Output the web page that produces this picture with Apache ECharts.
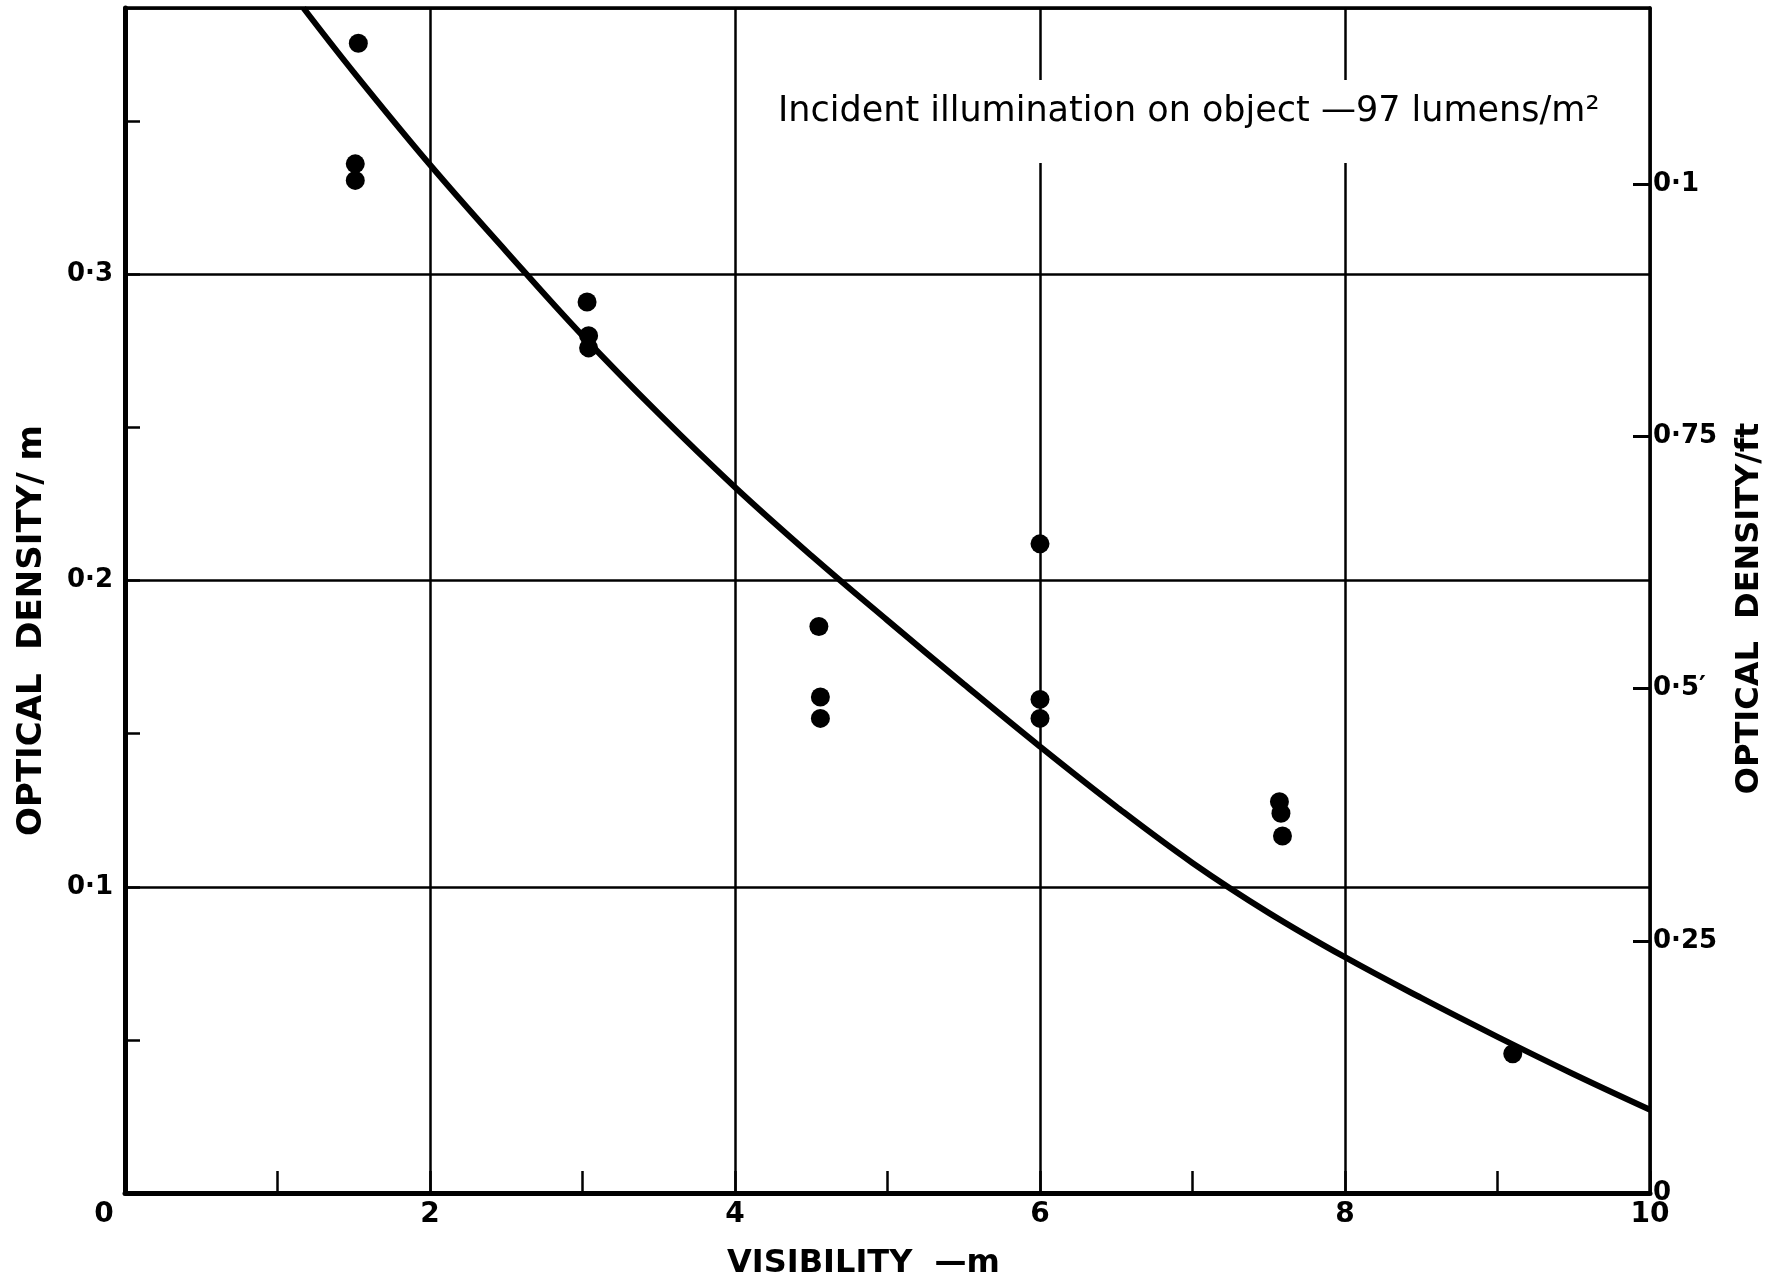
<!DOCTYPE html>
<html>
<head>
<meta charset="utf-8">
<script src="https://cdn.jsdelivr.net/npm/echarts@6/dist/echarts.min.js"></script>
<style>
html,body{margin:0;padding:0;background:#fff;}
#chart{width:1782px;height:1288px;}
</style>
</head>
<body>
<div id="chart"></div>
<script>
// ---- data ----
const pointX = [1.53, 1.51, 1.51, 3.03, 3.04, 3.04, 4.55, 4.56, 4.56, 6.0, 6.0, 6.0, 7.57, 7.58, 7.59, 9.10];
const pointY = [0.3755, 0.3361, 0.3307, 0.291, 0.280, 0.276, 0.185, 0.162, 0.155, 0.212, 0.1612, 0.155, 0.1278, 0.124, 0.1166, 0.0455];

const curveX = [1.17, 1.5, 2, 2.5, 3, 3.5, 4, 4.5, 5, 5.5, 6, 6.5, 7, 7.5, 8, 8.5, 9, 9.5, 10];
const curveY = [0.387, 0.366, 0.3358, 0.3075, 0.280, 0.2545, 0.2305, 0.2082, 0.187, 0.1662, 0.1458, 0.1262, 0.1078, 0.0915, 0.077, 0.0637, 0.051, 0.0388, 0.0272];

const leftTickLabels = {1: '0·1', 2: '0·2', 3: '0·3'};        // keyed by tenths
const rightTickLabels = {0: '0', 1: '0·25', 2: '0·5\u2032', 3: '0·75', 4: '0·1'}; // keyed by quarter steps
const xLabelValues = [0, 2, 4, 6, 8, 10];

const xTitle = 'VISIBILITY  —m';
const yLeftTitle = 'OPTICAL  DENSITY/ m';
const yRightTitle = 'OPTICAL  DENSITY/ft';
const note = 'Incident illumination on object —97 lumens/m²';

const X_MAX = 10;
const Y_MAX = 0.387;
const R_MAX = 1.1745;

const FONT = '"DejaVu Sans", "Liberation Sans", sans-serif';

const chart = echarts.init(document.getElementById('chart'), null, {renderer: 'canvas'});

const scatterData = pointX.map((x, i) => [x, pointY[i]]);
const curveData = curveX.map((x, i) => [x, curveY[i]]);

const option = {
  backgroundColor: '#ffffff',
  animation: false,
  textStyle: {fontFamily: FONT, color: '#000'},
  grid: {left: 125, right: 132, top: 8, bottom: 95, containLabel: false},
  xAxis: [
    {
      type: 'value', position: 'bottom', min: 0, max: X_MAX, interval: 1,
      axisLine: {show: true, onZero: false, lineStyle: {color: '#000', width: 5}},
      axisTick: {show: true, inside: true, length: 22, lineStyle: {color: '#000', width: 2.5}},
      splitLine: {show: false},
      axisLabel: {
        color: '#000', fontSize: 28, fontWeight: 'bold', fontFamily: FONT, margin: 8,
        formatter: v => {
          const r = Math.round(v);
          if (xLabelValues.indexOf(r) < 0) return '';
          return r === 0 ? '{z|0}' : String(r);
        },
        rich: {z: {fontSize: 28, fontWeight: 'bold', fontFamily: FONT, color: '#000', padding: [0, 42, 0, 0]}}
      },
      name: xTitle, nameLocation: 'middle', nameGap: 55,
      nameTextStyle: {fontSize: 32, fontWeight: 'bold', fontFamily: FONT, color: '#000', padding: [0, 48, 0, 0]}
    },
    {
      type: 'value', position: 'top', min: 0, max: X_MAX, interval: 2,
      axisLine: {show: true, onZero: false, lineStyle: {color: '#000', width: 3.5}},
      axisTick: {show: false}, axisLabel: {show: false},
      splitLine: {show: true, lineStyle: {color: '#000', width: 2.5}}
    }
  ],
  yAxis: [
    {
      type: 'value', position: 'left', min: 0, max: Y_MAX, interval: 0.05,
      axisLine: {show: true, onZero: false, lineStyle: {color: '#000', width: 5}},
      axisTick: {show: true, inside: true, length: 15, lineStyle: {color: '#000', width: 2.5}},
      splitLine: {show: false},
      axisLabel: {
        color: '#000', fontSize: 26, fontWeight: 'bold', fontFamily: FONT, margin: 12, showMaxLabel: false,
        formatter: v => {
          const t = v * 10;
          const r = Math.round(t);
          if (Math.abs(t - r) > 1e-6) return '';
          return leftTickLabels[r] || '';
        }
      },
      name: yLeftTitle, nameLocation: 'middle', nameGap: 76, nameRotate: 90,
      nameTextStyle: {fontSize: 34, fontWeight: 'bold', fontFamily: FONT, color: '#000', padding: [0, 60, 0, 0]}
    },
    {
      type: 'value', position: 'right', min: 0, max: R_MAX, interval: 0.25,
      axisLine: {show: true, onZero: false, lineStyle: {color: '#000', width: 3.5}},
      axisTick: {show: true, inside: true, length: 17, lineStyle: {color: '#000', width: 3}},
      splitLine: {show: false},
      axisLabel: {
        color: '#000', fontSize: 26, fontWeight: 'bold', fontFamily: FONT, margin: 3, showMaxLabel: false,
        formatter: v => {
          const q = Math.round(v / 0.25);
          return rightTickLabels[q] !== undefined ? rightTickLabels[q] : '';
        }
      },
      name: yRightTitle, nameLocation: 'middle', nameGap: 84, nameRotate: 90,
      nameTextStyle: {fontSize: 32, fontWeight: 'bold', fontFamily: FONT, color: '#000', padding: [0, 16, 0, 0]}
    },
    {
      type: 'value', position: 'left', min: 0, max: Y_MAX, interval: 0.1,
      axisLine: {show: false}, axisTick: {show: false}, axisLabel: {show: false},
      splitLine: {show: true, lineStyle: {color: '#000', width: 2.5}}
    }
  ],
  graphic: [
    {
      type: 'text', z: 100, left: 768, top: 80,
      style: {
        text: note, fontSize: 35, fontFamily: FONT, fill: '#000',
        backgroundColor: '#fff', padding: [14, 10, 34, 10]
      }
    }
  ],
  series: [
    {
      type: 'line', xAxisIndex: 0, yAxisIndex: 0, data: curveData,
      smooth: 0.4, showSymbol: false, clip: true,
      lineStyle: {color: '#000', width: 6}, z: 3
    },
    {
      type: 'scatter', xAxisIndex: 0, yAxisIndex: 0, data: scatterData,
      symbol: 'circle', symbolSize: 19,
      itemStyle: {color: '#000', opacity: 1}, z: 4
    }
  ]
};

chart.setOption(option);
</script>
</body>
</html>
